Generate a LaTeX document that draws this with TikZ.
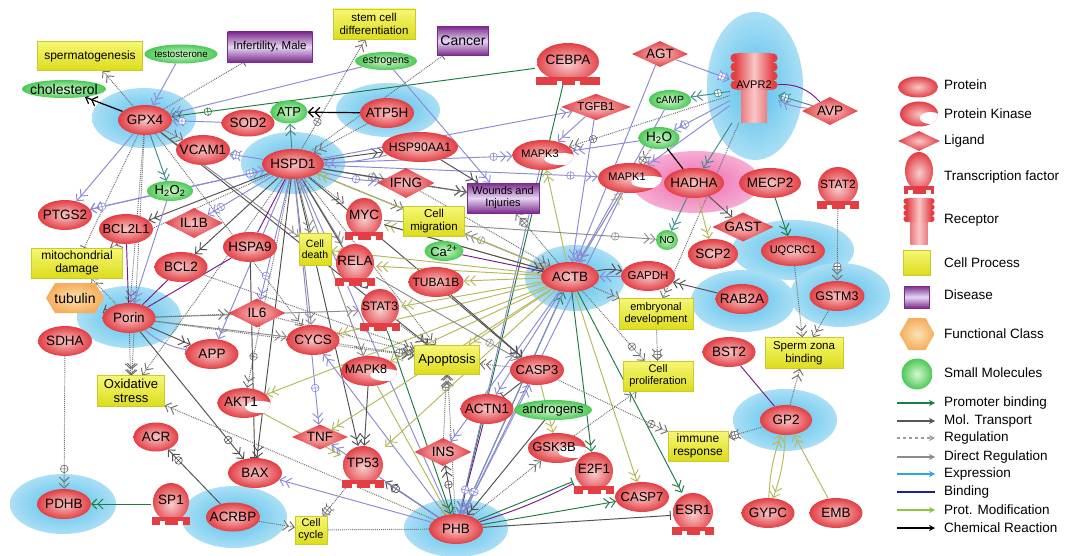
\documentclass[tikz,border=0pt]{standalone}
\usepackage{fontspec}
\setmainfont{Liberation Sans}
\usepackage{xcolor}
\usepackage{tikz}
\usetikzlibrary{
    shapes.geometric,
    arrows.meta,
    positioning,
    calc,
    decorations.markings
}
\definecolor{protred}{HTML}{E23E44}
\definecolor{protpink}{HTML}{F9C6C6}
\definecolor{tfpink}{HTML}{F8CFCF}
\definecolor{smgreen}{HTML}{4CC957}
\definecolor{smlight}{HTML}{D6F8D0}
\definecolor{cpytop}{HTML}{F6F675}
\definecolor{cpybot}{HTML}{DCDC1C}
\definecolor{cpyedge}{HTML}{CACA2A}
\definecolor{dzdark}{HTML}{7B2B8C}
\definecolor{dzlight}{HTML}{E6D6F2}
\definecolor{fcorange}{HTML}{F4AE5C}
\definecolor{fclight}{HTML}{FCE2B4}
\definecolor{halocol}{HTML}{55BFEB}
\definecolor{halopink}{HTML}{EE6AB0}
\definecolor{pbgreen}{HTML}{1F7A44}
\definecolor{mtgray}{HTML}{505050}
\definecolor{reggray}{HTML}{6E6E6E}
\definecolor{drgray}{HTML}{8C8C8C}
\definecolor{exlav}{HTML}{8A8AD6}
\definecolor{bdpurple}{HTML}{7A1A8A}
\definecolor{pmolive}{HTML}{B8B85A}
\definecolor{tlteal}{HTML}{3D8C8C}
\definecolor{lgpb}{HTML}{1E7B4B}
\definecolor{lgmt}{HTML}{555555}
\definecolor{lgreg}{HTML}{9A9A9A}
\definecolor{lgdr}{HTML}{8C8C8C}
\definecolor{lgex}{HTML}{2AA9E0}
\definecolor{lgbd}{HTML}{1F1F8F}
\definecolor{lgpm}{HTML}{8CC63F}
\pgfdeclarelayer{halo}
\pgfdeclarelayer{edges}
\pgfsetlayers{halo,edges,main}
\tikzset{
    % Protein
    prot/.style={
        ellipse,
        inner xsep=-8pt,
        inner ysep=0pt,
        minimum width=#1,
        minimum height=30pt,
        inner color=protpink,
        outer color=protred,
        font=\fontsize{13.5}{14}\selectfont
    },
    prot/.default=53pt,
    % Protein kinase
    kinase/.style={
        ellipse,
        inner xsep=-8pt,
        inner ysep=0pt,
        minimum width=#1,
        minimum height=30pt,
        inner color=protpink,
        outer color=protred,
        text depth=3pt,
        font=\fontsize{13}{14}\selectfont,
        execute at begin node={\hspace*{-6pt}},
        path picture={
            \fill[white] ($(path picture bounding box.center)+(0.3*#1,-4pt)$)
                ellipse [x radius=0.28*#1, y radius=6pt];
        }
    },
    kinase/.default=56pt,
    % Ligand
    ligand/.style={
        diamond,
        aspect=2.2,
        inner sep=0.5pt,
        minimum width=#1,
        minimum height=26pt,
        inner color=protpink,
        outer color=protred,
        font=\fontsize{13.5}{14}\selectfont
    },
    ligand/.default=54pt,
    % Transcription factor
    tfnode/.style={
        rectangle,
        inner sep=0pt,
        minimum width=#1,
        minimum height=42pt,
        text depth=8pt,
        font=\fontsize{13.5}{14}\selectfont,
        path picture={
            \shade[inner color=tfpink, outer color=protred]
                ($(path picture bounding box.center)+(0pt,2pt)$)
                ellipse [x radius=#1/2-2pt, y radius=19pt];
            \fill[protred] ($(path picture bounding box.south west)+(1pt,0pt)$) rectangle
                ($(path picture bounding box.south east)+(-1pt,8pt)$);
            \fill[white] ($(path picture bounding box.south)+(-11.5pt,0pt)$) rectangle
                ($(path picture bounding box.south)+(-6.5pt,4pt)$);
            \fill[white] ($(path picture bounding box.south)+(6.5pt,0pt)$) rectangle
                ($(path picture bounding box.south)+(11.5pt,4pt)$);
        }
    },
    tfnode/.default=42pt,
    % Receptor
    receptor/.style={
        rectangle,
        inner sep=0pt,
        minimum width=48pt*#1,
        minimum height=70pt*#1,
        text depth=6pt,
        font=\fontsize{11}{12}\selectfont,
        path picture={
            \shade[left color=protred, right color=protred, middle color=protpink]
                ($(path picture bounding box.center)+(-13pt*#1,-35pt*#1)$) rectangle
                ($(path picture bounding box.center)+(13pt*#1,0pt)$);
            \foreach \yy in {30,21,12,3} {
                \fill[protred] ($(path picture bounding box.center)+(-19pt*#1,\yy pt*#1)$)
                    circle [radius=4.6pt*#1];
                \fill[protred] ($(path picture bounding box.center)+(19pt*#1,\yy pt*#1)$)
                    circle [radius=4.6pt*#1];
            }
            \shade[left color=protred, right color=protred, middle color=protpink,
                rounded corners=3pt]
                ($(path picture bounding box.center)+(-19pt*#1,-2pt*#1)$) rectangle
                ($(path picture bounding box.center)+(19pt*#1,35pt*#1)$);
        }
    },
    receptor/.default=1,
    % Small molecule
    smallmol/.style={
        ellipse,
        inner xsep=-8pt,
        inner ysep=0pt,
        minimum width=#1,
        minimum height=20pt,
        inner color=smlight,
        outer color=smgreen,
        font=\fontsize{13}{14}\selectfont
    },
    smallmol/.default=40pt,
    % Cell process
    cellproc/.style={
        rectangle,
        inner sep=1pt,
        align=center,
        top color=cpytop,
        bottom color=cpybot,
        draw=cpyedge,
        line width=0.4pt
    },
    % Disease
    disease/.style={
        rectangle,
        inner sep=1pt,
        align=center,
        top color=dzdark,
        bottom color=dzdark,
        middle color=dzlight,
        draw=dzdark,
        line width=0.4pt
    },
    % Functional class
    funcls/.style={
        rectangle,
        inner sep=1pt,
        font=\fontsize{14}{15}\selectfont,
        path picture={
            \shade[inner color=fclight, outer color=fcorange]
                (path picture bounding box.west)
                -- ($(path picture bounding box.north west)+(9pt,0pt)$)
                -- ($(path picture bounding box.north east)+(-9pt,0pt)$)
                -- (path picture bounding box.east)
                -- ($(path picture bounding box.south east)+(-9pt,0pt)$)
                -- ($(path picture bounding box.south west)+(9pt,0pt)$) -- cycle;
        }
    },
    % Halo
    halosh/.style={inner color=halocol, outer color=halocol!50!white},
    % Edges
    edgebase/.style={line width=0.95pt},
    pbarr/.style={edgebase, color=pbgreen, ->},
    mtarr/.style={edgebase, color=mtgray, ->},
    regarr/.style={edgebase, color=reggray, densely dotted, ->},
    drarr/.style={edgebase, color=drgray, ->},
    exarr/.style={edgebase, color=exlav, ->},
    bdline/.style={edgebase, color=bdpurple, -},
    pmarr/.style={edgebase, color=pmolive, ->},
    crarr/.style={edgebase, line width=1.2pt, color=black, ->},
    crline/.style={edgebase, line width=1.2pt, color=black, -},
    tlarr/.style={edgebase, color=tlteal, ->},
    inhib/.style={-{Bar[width=9pt]}},
    plusmark/.style={
        postaction={decorate, decoration={markings,
            mark=at position #1 with {
                \draw[solid, fill=white, arrows=-, line width=0.6pt]
                    (0pt,0pt) circle [radius=3.8pt]
                    (-3.8pt,0pt) -- (3.8pt,0pt) (0pt,-3.8pt) -- (0pt,3.8pt);
            }}}
    },
    plusmark/.default=0.8,
    % Legend
    legtext/.style={anchor=west, inner sep=1pt, font=\fontsize{13.5}{14}\selectfont},
    lgarr/.style={line width=1.4pt, -{Stealth[length=6pt, width=6pt]}},
    lgline/.style={line width=1.4pt}
}

\begin{document}
\begin{tikzpicture}[x=1pt, y=-1pt,
    >={Straight Barb[length=5pt, width=10pt] Straight Barb[length=5pt, width=10pt]}]

    \useasboundingbox (0,0) rectangle (1075,556);
    \begin{pgfonlayer}{halo}
        \fill[white] (0,0) rectangle (1075,556);
        \shade[halosh] (144,118) ellipse [x radius=52, y radius=30];
        \shade[halosh] (293,163) ellipse [x radius=52, y radius=31];
        \shade[halosh] (388,110) ellipse [x radius=52, y radius=27];
        \shade[halosh] (755,86) ellipse [x radius=48, y radius=74];
        \shade[inner color=halopink, outer color=halopink!55!white] (696,182) ellipse [x radius=64, y radius=31];
        \shade[halosh] (793,250) ellipse [x radius=61, y radius=30];
        \shade[halosh] (840,295) ellipse [x radius=50, y radius=32];
        \shade[halosh] (743,301) ellipse [x radius=52, y radius=31];
        \shade[halosh] (575,278) ellipse [x radius=50, y radius=33];
        \shade[halosh] (785,420) ellipse [x radius=52, y radius=31];
        \shade[halosh] (456,528) ellipse [x radius=52, y radius=29];
        \shade[halosh] (129,317) ellipse [x radius=52, y radius=31];
        \shade[halosh] (63,504) ellipse [x radius=53, y radius=30];
        \shade[halosh] (234,517) ellipse [x radius=53, y radius=31];
    \end{pgfonlayer}

    % Cell processes and diseases
    \node[cellproc, minimum width=105pt, minimum height=29pt, font=\fontsize{12}{13}\selectfont] (spermat) at (90,56) {spermatogenesis};
    \node[cellproc, minimum width=82pt, minimum height=30pt, font=\fontsize{11.5}{12.5}\selectfont] (stemcell) at (374,24) {stem cell\\differentiation};
    \node[cellproc, minimum width=91pt, minimum height=30pt, font=\fontsize{12}{13}\selectfont] (mito) at (77,263) {mitochondrial\\damage};
    \node[cellproc, minimum width=61pt, minimum height=30pt, font=\fontsize{11.5}{12.5}\selectfont] (cellmig) at (434,221) {Cell\\migration};
    \node[cellproc, minimum width=32pt, minimum height=32pt, font=\fontsize{10.5}{11.5}\selectfont] (celldeath) at (315,249) {Cell\\death};
    \node[cellproc, minimum width=65pt, minimum height=29pt, font=\fontsize{13}{14}\selectfont] (apopt) at (447,360) {Apoptosis};
    \node[cellproc, minimum width=74pt, minimum height=31pt, font=\fontsize{11}{12}\selectfont] (embryo) at (656,314) {embryonal\\development};
    \node[cellproc, minimum width=70pt, minimum height=30pt, font=\fontsize{11}{12}\selectfont] (prolif) at (658,376) {Cell\\proliferation};
    \node[cellproc, minimum width=78pt, minimum height=31pt, font=\fontsize{11.5}{12.5}\selectfont] (spermzona) at (804,353) {Sperm zona\\binding};
    \node[cellproc, minimum width=60pt, minimum height=30pt, font=\fontsize{12}{13}\selectfont] (immune) at (698,446) {immune\\response};
    \node[cellproc, minimum width=67pt, minimum height=31pt, font=\fontsize{13}{14}\selectfont] (oxstress) at (131,391) {Oxidative\\stress};
    \node[cellproc, minimum width=32pt, minimum height=28pt, font=\fontsize{11}{12}\selectfont] (cellcycle) at (311,530) {Cell\\cycle};
    \node[disease, minimum width=85pt, minimum height=30pt, font=\fontsize{11.5}{12.5}\selectfont] (infert) at (270,47) {Infertility, Male};
    \node[disease, minimum width=51pt, minimum height=29pt, font=\fontsize{14}{15}\selectfont] (cancer) at (463,41) {Cancer};
    \node[disease, minimum width=72pt, minimum height=30pt, font=\fontsize{11}{12}\selectfont] (wounds) at (503,198) {Wounds and\\Injuries};
    \node[funcls, minimum width=58pt, minimum height=30pt] (tubulin) at (75,298) {tubulin};

    % Small molecules
    \node[smallmol=84pt, minimum height=18pt, font=\fontsize{14}{15}\selectfont] (chol) at (64,89) {cholesterol};
    \node[smallmol=73pt, minimum height=19pt, font=\fontsize{9.7}{10}\selectfont] (testost) at (181,54) {testosterone};
    \node[smallmol=62pt, minimum height=18pt, font=\fontsize{10.6}{11}\selectfont] (estrog) at (386,61) {estrogens};
    \node[smallmol=37pt, minimum height=23pt] (atp) at (289,112) {ATP};
    \node[smallmol=42pt, font=\fontsize{10.5}{11}\selectfont] (camp) at (670,100) {cAMP};
    \node[smallmol=41pt, minimum height=22pt, font=\fontsize{13.5}{14}\selectfont] (h2o) at (659,138) {H\textsubscript{2}O};
    \node[smallmol=46pt, minimum height=20pt] (h2o2) at (170,191) {H\textsubscript{2}O\textsubscript{2}};
    \node[smallmol=22pt, minimum height=20pt, font=\fontsize{10}{11}\selectfont] (no) at (667,240) {NO};
    \node[smallmol=39pt, minimum height=20pt] (ca) at (444,251) {Ca\textsuperscript{2+}};
    \node[smallmol=78pt, minimum height=20pt] (androg) at (553,410) {androgens};

    % Proteins
    \node[prot=54pt] (gpx4) at (145,120) {GPX4};
    \node[prot=53pt, minimum height=27pt] (sod2) at (248,123) {SOD2};
    \node[prot=54pt] (vcam1) at (203,150) {VCAM1};
    \node[prot=62pt] (hspd1) at (293,164) {HSPD1};
    \node[prot=54pt] (atp5h) at (387,113) {ATP5H};
    \node[prot=76pt, font=\fontsize{12.3}{13}\selectfont] (hsp90) at (420,147) {HSP90AA1};
    \node[prot=60pt] (hadha) at (694,183) {HADHA};
    \node[prot=62pt] (mecp2) at (770,183) {MECP2};
    \node[prot=50pt] (scp2) at (713,254) {SCP2};
    \node[prot=64pt, font=\fontsize{11}{12}\selectfont] (uqcrc1) at (793,251) {UQCRC1};
    \node[prot=55pt, font=\fontsize{12.5}{13}\selectfont] (gstm3) at (837,296) {GSTM3};
    \node[prot=53pt] (rab2a) at (742,299) {RAB2A};
    \node[prot=54pt, font=\fontsize{11.5}{12}\selectfont] (gapdh) at (648,276) {GAPDH};
    \node[prot=58pt] (actb) at (570,277) {ACTB};
    \node[prot=53pt] (bst2) at (729,352) {BST2};
    \node[prot=52pt] (gp2) at (786,420) {GP2};
    \node[prot=53pt] (gypc) at (768,513) {GYPC};
    \node[prot=53pt] (emb) at (836,513) {EMB};
    \node[prot=54pt, font=\fontsize{13}{14}\selectfont] (casp7) at (642,497) {CASP7};
    \node[prot=53pt] (actn1) at (487,409) {ACTN1};
    \node[prot=54pt, font=\fontsize{13}{14}\selectfont] (casp3) at (537,370) {CASP3};
    \node[prot=54pt] (phb) at (456,529) {PHB};
    \node[prot=53pt] (cycs) at (313,340) {CYCS};
    \node[prot=55pt, font=\fontsize{12}{13}\selectfont] (tuba1b) at (436,282) {TUBA1B};
    \node[prot=54pt] (ptgs2) at (65,215) {PTGS2};
    \node[prot=54pt, font=\fontsize{13}{14}\selectfont] (bcl2l1) at (126,229) {BCL2L1};
    \node[prot=54pt] (hspa9) at (250,247) {HSPA9};
    \node[prot=53pt] (bcl2) at (181,267) {BCL2};
    \node[prot=53pt] (porin) at (129,318) {Porin};
    \node[prot=54pt] (sdha) at (65,341) {SDHA};
    \node[prot=53pt] (app) at (212,354) {APP};
    \node[prot=45pt, minimum height=29pt] (acr) at (156,437) {ACR};
    \node[prot=54pt] (bax) at (255,473) {BAX};
    \node[prot=54pt] (pdhb) at (64,504) {PDHB};
    \node[prot=54pt, minimum height=29pt] (acrbp) at (233,517) {ACRBP};

    % Protein kinases
    \node[kinase=61pt, font=\fontsize{11}{12}\selectfont] (mapk3) at (543,155) {MAPK3};
    \node[kinase=64pt, font=\fontsize{11}{12}\selectfont] (mapk1) at (630,178) {MAPK1};
    \node[kinase=56pt, font=\fontsize{12.5}{13}\selectfont] (mapk8) at (369,371) {MAPK8};
    \node[kinase=53pt, font=\fontsize{13.5}{14}\selectfont] (akt1) at (244,403) {AKT1};
    \node[kinase=58pt] (gsk3b) at (557,448) {GSK3B};

    % Transcription factors
    \node[tfnode=66pt] (cebpa) at (568,64) {CEBPA};
    \node[tfnode=40pt] (myc) at (364,219) {MYC};
    \node[tfnode] (rela) at (355,265) {RELA};
    \node[tfnode, font=\fontsize{12.3}{13}\selectfont] (stat3) at (380,310) {STAT3};
    \node[tfnode=44pt] (tp53) at (363,467) {TP53};
    \node[tfnode] (e2f1) at (594,473) {E2F1};
    \node[tfnode=44pt] (esr1) at (693,514) {ESR1};
    \node[tfnode=40pt] (sp1) at (171,504) {SP1};
    \node[tfnode=44pt, font=\fontsize{12}{13}\selectfont] (stat2) at (838,188) {STAT2};

    % Ligands and receptor
    \node[ligand=56pt] (agt) at (660,54) {AGT};
    \node[ligand=70pt, minimum height=24pt, font=\fontsize{11.5}{12}\selectfont] (tgfb1) at (596,107) {TGFB1};
    \node[ligand=56pt, minimum height=28pt] (avp) at (830,111) {AVP};
    \node[ligand=56pt, minimum height=29pt] (gast) at (743,227) {GAST};
    \node[ligand=57pt, minimum height=30pt] (ifng) at (406,183) {IFNG};
    \node[ligand=58pt, minimum height=30pt] (il1b) at (194,223) {IL1B};
    \node[ligand=57pt, minimum height=29pt] (il6) at (257,313) {IL6};
    \node[ligand=56pt, minimum height=25pt] (tnf) at (320,437) {TNF};
    \node[ligand=57pt, minimum height=28pt] (ins) at (443,452) {INS};
    \node[receptor] (avpr2) at (754,88) {AVPR2};

    \begin{pgfonlayer}{edges}
        % GPX4
        \draw[crarr] (gpx4) -- (chol);
        \draw[regarr] (gpx4) -- (spermat);
        \draw[exarr] (testost) -- (gpx4);
        \draw[regarr, inhib] (gpx4) -- (infert);
        \draw[pbarr, plusmark=0.9] (cebpa) -- (gpx4);
        \draw[exarr, plusmark] (sod2) -- (gpx4);
        \draw[exarr] (estrog) -- (gpx4);
        \draw[tlarr] (gpx4) -- (h2o2);
        \draw[exarr] (gpx4) -- (ptgs2);
        \draw[regarr] (gpx4) -- (vcam1);
        \draw[regarr, inhib] (gpx4) -- (mito);
        \draw[regarr] (gpx4) -- (oxstress);
        \draw[regarr] (gpx4) -- (porin);
        \draw[drarr] (gpx4) -- (celldeath);
        \draw[mtarr] (gpx4) -- (apopt);
        \draw[regarr] (gpx4) -- (cycs);

        % HSPD1
        \draw[crarr] (atp5h) -- (atp);
        \draw[tlarr] (hspd1) -- (atp);
        \draw[regarr] (atp5h) -- (hspd1);
        \draw[regarr, plusmark=0.25] (hspd1) -- (stemcell);
        \draw[regarr, inhib] (hspd1) -- (cancer);
        \draw[exarr, plusmark] (hspd1) -- (vcam1);
        \draw[exarr, plusmark] (h2o2) -- (hspd1);
        \draw[mtarr] (hspd1) -- (hsp90);
        \draw[exarr] (hsp90) to[bend left=6] (hspd1);
        \draw[exarr, plusmark=0.9] (hspd1) -- (mapk3);
        \draw[exarr, plusmark=0.9] (hspd1) -- (mapk1);
        \draw[exarr] (hspd1) -- (tgfb1);
        \draw[drarr, plusmark] (hspd1) -- (ifng);
        \draw[exarr, plusmark=0.6] (hspd1) to[bend right=6] (ifng);
        \draw[mtarr] (hspd1) -- (bcl2l1);
        \draw[exarr, plusmark] (hspd1) -- (il1b);
        \draw[mtarr] (hspd1) -- (bcl2);
        \draw[bdline] (hspd1) -- (hspa9);
        \draw[exarr, plusmark] (hspd1) -- (il6);
        \draw[drarr] (hspd1) -- (cycs);
        \draw[exarr, plusmark=0.85] (hspd1) -- (tnf);
        \draw[mtarr] (hspd1) -- (tp53);
        \draw[regarr, plusmark=0.85] (hspd1) -- (akt1);
        \draw[drarr] (hspd1) -- (celldeath);
        \draw[regarr] (hspd1) -- (myc);
        \draw[drarr] (hspd1) -- (rela);
        \draw[mtarr] (hspd1) -- (stat3);
        \draw[regarr] (hspd1) -- (apopt);
        \draw[drarr] (hspd1) -- (mapk8);
        \draw[mtarr] (hspd1) -- (casp3);
        \draw[exarr] (hspd1) -- (actb);
        \draw[regarr] (hspd1) -- (cellmig);
        \draw[mtarr] (hspd1) -- (wounds);
        \draw[mtarr] (hspd1) -- (bax);
        \draw[exarr] (hspd1) -- (ptgs2);
        \draw[regarr] (hspd1) -- (mito);
        \draw[regarr] (hspd1) -- (oxstress);
        \draw[exarr] (hspd1) -- (app);

        % estrogens, HSP90AA1, IFNG
        \draw[exarr] (estrog) -- (wounds);
        \draw[mtarr] (hsp90) -- (wounds);
        \draw[regarr] (ifng) -- (wounds);
        \draw[regarr] (ifng) -- (actb);

        % Porin
        \draw[bdline] (porin) -- (bcl2l1);
        \draw[bdline] (porin) -- (bcl2);
        \draw[bdline] (porin) -- (hspa9);
        \draw[mtarr, inhib] (porin) -- (tubulin);
        \draw[regarr] (porin) -- (mito);
        \draw[mtarr] (porin) -- (app);
        \draw[exarr, inhib] (porin) to[bend right=14] (app);
        \draw[drarr] (porin) -- (cycs);
        \draw[drarr] (porin) -- (stat3);
        \draw[mtarr, plusmark=0.85] (porin) -- (bax);
        \draw[regarr] (porin) -- (apopt);
        \draw[regarr] (porin) -- (il6);
        \draw[regarr] (porin) -- (oxstress);
        \draw[exarr] (h2o2) -- (porin);
        \draw[exarr, plusmark] (h2o2) -- (ptgs2);

        % lower left
        \draw[regarr, plusmark=0.85] (sdha) -- (pdhb);
        \draw[pbarr] (sp1) -- (pdhb);
        \draw[mtarr, plusmark] (acrbp) -- (acr);
        \draw[regarr] (acrbp) -- (cellcycle);
        \draw[regarr, inhib] (phb) -- (cellcycle);
        \draw[regarr, plusmark] (tp53) -- (cellcycle);
        \draw[exarr] (phb) -- (bax);
        \draw[regarr] (phb) -- (oxstress);
        \draw[mtarr, inhib] (hspa9) -- (bax);
        \draw[pmarr] (actb) -- (akt1);
        \draw[pmarr] (akt1) -- (tp53);

        % PHB
        \draw[mtarr, plusmark] (phb) -- (tp53);
        \draw[mtarr, plusmark=0.6] (phb) -- (ins);
        \draw[regarr, plusmark] (ins) -- (apopt);
        \draw[regarr] (phb) -- (apopt);
        \draw[bdline] (phb) -- (actn1);
        \draw[pbarr] (phb) -- (actb);
        \draw[pbarr] (cebpa) -- (phb);
        \draw[exarr] (phb) -- (casp3);
        \draw[regarr] (phb) -- (gsk3b);
        \draw[pbarr, inhib] (phb) -- (e2f1);
        \draw[bdline] (phb) to[bend right=5] (e2f1);
        \draw[pbarr] (phb) -- (casp7);
        \draw[mtarr, inhib] (phb) -- (esr1);
        \draw[exarr] (phb) -- (tnf);
        \draw[exarr, plusmark=0.9] (actb) -- (phb);
        \draw[exarr, plusmark=0.93] (mapk3) -- (phb);
        \draw[exarr, plusmark=0.93] (mapk1) -- (phb);
        \draw[exarr] (phb) -- (hspd1);
        \draw[exarr] (phb) -- (cycs);
        \draw[pmarr] (mapk8) -- (phb);
        \draw[mtarr] (androg) -- (phb);
        \draw[pbarr] (stat3) -- (phb);

        % ACTB
        \draw[mtarr] (actb) to[bend left=12] (gapdh);
        \draw[exarr] (gapdh) -- (actb);
        \draw[mtarr] (rab2a) -- (gapdh);
        \draw[regarr] (actb) -- (embryo);
        \draw[bdline] (ca) -- (actb);
        \draw[regarr, plusmark] (actb) -- (prolif);
        \draw[drarr, plusmark] (actb) -- (cellmig);
        \draw[regarr, plusmark] (actb) -- (wounds);
        \draw[pmarr] (actb) -- (mapk3);
        \draw[pmarr] (actb) -- (mapk1);
        \draw[pmarr] (actb) -- (rela);
        \draw[pmarr] (actb) -- (tuba1b);
        \draw[pmarr] (actb) -- (myc);
        \draw[pmarr] (actb) -- (stat3);
        \draw[pmarr] (actb) -- (cycs);
        \draw[pmarr] (actb) -- (tp53);
        \draw[pmarr] (actb) -- (celldeath);
        \draw[pmarr] (actb) -- (hspd1);
        \draw[pmarr] (actb) -- (apopt);
        \draw[pmarr] (actb) -- (tnf);
        \draw[pmarr] (actb) -- (mapk8);
        \draw[pbarr] (actb) -- (e2f1);
        \draw[pbarr] (actb) -- (esr1);
        \draw[pmarr] (actb) -- (casp7);
        \draw[exarr] (actb) -- (actn1);
        \draw[exarr] (actb) -- (ins);
        \draw[drarr, plusmark=0.85] (myc) -- (no);
        \draw[mtarr] (myc) -- (actb);
        \draw[regarr, plusmark=0.85] (casp3) -- (immune);
        \draw[regarr] (gsk3b) -- (prolif);
        \draw[drarr, plusmark] (rela) -- (casp3);
        \draw[regarr, plusmark] (cycs) -- (apopt);
        \draw[regarr] (stat3) -- (apopt);
        \draw[regarr] (bcl2) -- (apopt);
        \draw[regarr] (il6) -- (apopt);
        \draw[regarr] (casp3) -- (apopt);
        \draw[mtarr] (tuba1b) -- (casp3);
        \draw[mtarr] (mapk8) -- (tp53);
        \draw[mtarr, inhib] (casp3) -- (actn1);
        \draw[pmarr] (casp3) -- (gsk3b);

        % AVPR2 and right side
        \draw[exarr, plusmark=0.85] (agt) -- (avpr2);
        \draw[tlarr, plusmark=0.3] (avpr2) -- (camp);
        \draw[tlarr, plusmark] (avp) -- (avpr2);
        \draw[bdline] (avp) to[bend right=25] (avpr2);
        \draw[exarr] (avp) to[bend left=10] (avpr2);
        \draw[exarr, plusmark] (avpr2) -- (h2o);
        \draw[regarr, plusmark=0.85] (avpr2) -- (mapk3);
        \draw[tlarr] (avpr2) -- (hadha);
        \draw[regarr] (avpr2) -- (embryo);
        \draw[exarr] (avpr2) -- (mapk1);
        \draw[regarr, plusmark] (h2o) -- (mapk1);
        \draw[crline] (h2o) -- (hadha);
        \draw[exarr] (h2o) -- (mapk3);
        \draw[exarr] (tgfb1) -- (mapk3);
        \draw[exarr] (agt) -- (actb);
        \draw[exarr] (camp) -- (actb);
        \draw[exarr] (tgfb1) -- (actb);
        \draw[exarr] (mapk1) -- (actb);
        \draw[mtarr] (hadha) -- (gast);
        \draw[pmarr] (hadha) -- (scp2);
        \draw[tlarr] (hadha) -- (no);
        \draw[regarr, plusmark] (embryo) -- (prolif);
        \draw[pbarr] (mecp2) -- (uqcrc1);
        \draw[regarr, plusmark] (stat2) -- (gstm3);
        \draw[regarr] (uqcrc1) -- (spermzona);
        \draw[regarr] (gstm3) -- (spermzona);
        \draw[regarr] (gp2) -- (spermzona);
        \draw[bdline] (bst2) -- (gp2);
        \draw[regarr, plusmark] (gp2) -- (immune);
        \draw[pmarr] (gypc) to[bend left=8] (gp2);
        \draw[pmarr] (gp2) to[bend left=8] (gypc);
        \draw[pmarr] (emb) -- (gp2);
    \end{pgfonlayer}

    % Legend
    \node[prot=40pt, minimum height=21pt] (lgprot) at (918,87) {};
    \node[legtext] (lgprott) at (943,85) {Protein};
    \node[kinase=38pt, minimum height=25pt] (lgkin) at (919,114) {};
    \node[legtext] (lgkint) at (943,114) {Protein Kinase};
    \node[ligand=42pt, minimum height=20pt] (lglig) at (919,141) {};
    \node[legtext] (lgligt) at (943,141) {Ligand};
    \node[tfnode=32pt] (lgtf) at (919,173) {};
    \node[legtext] (lgtft) at (943,177) {Transcription factor};
    \node[receptor=0.66] (lgrec) at (919,221) {};
    \node[legtext] (lgrect) at (943,220) {Receptor};
    \node[cellproc, minimum width=27pt, minimum height=25pt] (lgcp) at (917,263) {};
    \node[legtext] (lgcpt) at (943,263) {Cell Process};
    \node[disease, minimum width=25pt, minimum height=22pt] (lgdz) at (917,297) {};
    \node[legtext] (lgdzt) at (943,295) {Disease};
    \node[funcls, minimum width=35pt, minimum height=32pt] (lgfc) at (917,334) {};
    \node[legtext] (lgfct) at (943,334) {Functional Class};
    \node[smallmol=31pt, minimum height=31pt] (lgsm) at (917,374) {};
    \node[legtext] (lgsmt) at (943,373) {Small Molecules};

    \node[legtext] (lgpbt) at (943,403) {Promoter binding};
    \node[legtext] (lgmtt) at (943,421) {Mol. Transport};
    \node[legtext] (lgregt) at (943,438) {Regulation};
    \node[legtext] (lgdrt) at (943,457) {Direct Regulation};
    \node[legtext] (lgext) at (943,474) {Expression};
    \node[legtext] (lgbdt) at (943,492) {Binding};
    \node[legtext] (lgpmt) at (943,510) {Prot. Modification};
    \node[legtext] (lgcrt) at (943,528) {Chemical Reaction};
    \draw[lgarr, color=lgpb] ([xshift=-46pt]lgpbt.west) -- ([xshift=-8pt]lgpbt.west);
    \draw[lgarr, color=lgmt] ([xshift=-46pt]lgmtt.west) -- ([xshift=-8pt]lgmtt.west);
    \draw[lgarr, color=lgreg, dashed] ([xshift=-46pt]lgregt.west) -- ([xshift=-8pt]lgregt.west);
    \draw[lgarr, color=lgdr] ([xshift=-46pt]lgdrt.west) -- ([xshift=-8pt]lgdrt.west);
    \draw[lgarr, color=lgex] ([xshift=-46pt]lgext.west) -- ([xshift=-8pt]lgext.west);
    \draw[lgline, color=lgbd] ([xshift=-46pt]lgbdt.west) -- ([xshift=-8pt]lgbdt.west);
    \draw[lgarr, color=lgpm] ([xshift=-46pt]lgpmt.west) -- ([xshift=-8pt]lgpmt.west);
    \draw[lgarr, color=black] ([xshift=-46pt]lgcrt.west) -- ([xshift=-8pt]lgcrt.west);

\end{tikzpicture}
\end{document}
